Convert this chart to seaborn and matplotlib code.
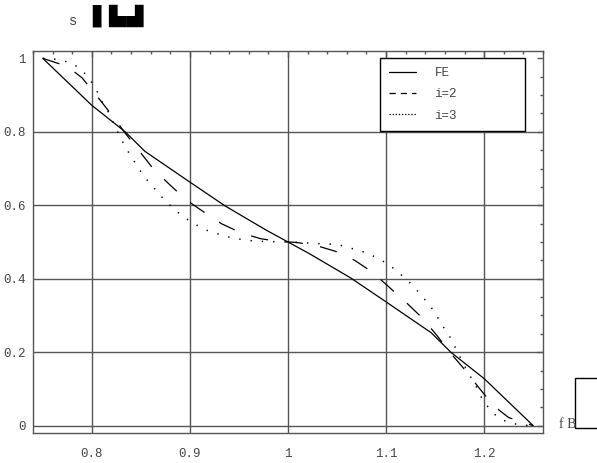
import numpy as np
import pandas as pd
import matplotlib
matplotlib.use("Agg")
import matplotlib.pyplot as plt
from matplotlib.lines import Line2D
from matplotlib.patches import Rectangle
from matplotlib.ticker import MultipleLocator
import seaborn as sns

# ---- data ----
fe_x = [0.75, 0.80, 0.834, 0.854, 0.90, 0.936, 0.978, 1.00, 1.022, 1.064, 1.10, 1.146, 1.166, 1.20, 1.25]
fe_y = [1.00, 0.872, 0.80, 0.747, 0.663, 0.598, 0.532, 0.50, 0.468, 0.402, 0.337, 0.253, 0.20, 0.128, 0.00]

i2_x = [0.75, 0.775, 0.79, 0.805, 0.82, 0.835, 0.848, 0.863, 0.879, 0.896, 0.914, 0.932, 0.952,
        0.972, 0.992, 1.008, 1.028, 1.048, 1.068, 1.086, 1.104, 1.121, 1.137, 1.152, 1.165,
        1.180, 1.195, 1.210, 1.225, 1.25]
i2_y = [1.00, 0.978, 0.947, 0.898, 0.847, 0.793, 0.749, 0.698, 0.657, 0.615, 0.582, 0.550, 0.525,
        0.509, 0.501, 0.499, 0.491, 0.475, 0.450, 0.418, 0.375, 0.334, 0.293, 0.245, 0.200,
        0.153, 0.102, 0.053, 0.022, 0.00]

i3_x = [0.75, 0.759, 0.769, 0.780, 0.789, 0.797, 0.804, 0.809, 0.816, 0.827, 0.833, 0.839, 0.846,
        0.853, 0.861, 0.869, 0.877, 0.886, 0.895, 0.904, 0.915, 0.925, 0.936, 0.947, 0.958,
        0.968, 1.00, 1.016, 1.028, 1.038, 1.050, 1.060, 1.070, 1.080, 1.092, 1.102, 1.111,
        1.119, 1.128, 1.136, 1.144, 1.151, 1.157, 1.164, 1.170, 1.176, 1.184, 1.191, 1.196,
        1.203, 1.211, 1.220, 1.231, 1.241, 1.25]
i3_y = [1.00, 0.999, 0.995, 0.986, 0.970, 0.946, 0.918, 0.888, 0.858, 0.796, 0.765, 0.737, 0.708,
        0.679, 0.655, 0.629, 0.607, 0.584, 0.566, 0.550, 0.534, 0.525, 0.516, 0.509, 0.505,
        0.502, 0.50, 0.498, 0.496, 0.495, 0.493, 0.487, 0.478, 0.471, 0.455, 0.440, 0.421,
        0.402, 0.380, 0.354, 0.330, 0.302, 0.274, 0.247, 0.216, 0.184, 0.142, 0.112, 0.082,
        0.054, 0.030, 0.014, 0.005, 0.001, 0.00]

series_labels = ["FE", "i=2", "i=3"]
x_ticks = [0.8, 0.9, 1.0, 1.1, 1.2]
x_tick_labels = ["0.8", "0.9", "1", "1.1", "1.2"]
y_ticks = [0, 0.2, 0.4, 0.6, 0.8, 1.0]
y_tick_labels = ["0", "0.2", "0.4", "0.6", "0.8", "1"]
grid_x = [0.8, 0.9, 1.0, 1.1, 1.2]
grid_y = [0, 0.2, 0.4, 0.6, 0.8]

# ---- figure ----
sns.set_theme(style="white")
plt.rcParams["font.family"] = ["Liberation Mono", "DejaVu Sans"]

W, H = 597, 463
fig = plt.figure(figsize=(W / 100, H / 100), dpi=100)
fig.patch.set_facecolor("white")
left, right, top, bottom = 33, 543, 51, 433
ax = fig.add_axes([left / W, 1 - bottom / H, (right - left) / W, (bottom - top) / H])
ax.set_facecolor("white")

for gx in grid_x:
    ax.axvline(gx, color="#555555", lw=1.0, zorder=1)
for gy in grid_y:
    ax.axhline(gy, color="#555555", lw=1.0, zorder=1)

sns.lineplot(x=fe_x, y=fe_y, color="black", lw=0.9, sort=False, estimator=None, ax=ax, zorder=3)
sns.lineplot(x=i2_x, y=i2_y, color="black", lw=0.9, sort=False, estimator=None, ax=ax,
             linestyle=(0, (14, 14)), zorder=3)
sns.lineplot(x=i3_x, y=i3_y, color="black", lw=1.1, sort=False, estimator=None, ax=ax,
             linestyle=(0, (0.9, 6.5)), zorder=3)

ax.set_xlim(0.74, 1.26)
ax.set_ylim(-0.02, 1.02)
ax.set_xticks(x_ticks)
ax.set_xticklabels(x_tick_labels)
ax.set_yticks(y_ticks)
ax.set_yticklabels(y_tick_labels)
ax.xaxis.set_minor_locator(MultipleLocator(0.02))
ax.yaxis.set_minor_locator(MultipleLocator(0.05))
ax.tick_params(which="both", direction="in", top=True, right=True, color="#555555")
ax.tick_params(which="major", length=4, width=1)
ax.tick_params(which="minor", length=2.5, width=1)
ax.tick_params(axis="x", which="major", pad=11, labelsize=9, labelcolor="#444444")
ax.tick_params(axis="y", which="major", pad=5, labelsize=9, labelcolor="#444444")
for sp in ax.spines.values():
    sp.set_visible(True)
    sp.set_color("#555555")
    sp.set_linewidth(1.0)
ax.set_xlabel("")
ax.set_ylabel("")

# legend
handles = [
    Line2D([], [], color="black", lw=0.9),
    Line2D([], [], color="black", lw=0.9, linestyle=(0, (5, 4))),
    Line2D([], [], color="black", lw=0.9, linestyle=(0, (1, 1.5))),
]
leg = ax.legend(handles, series_labels, loc="upper left",
                bbox_to_anchor=(380 / W, 1 - 58 / H, 145 / W, 0.001),
                bbox_transform=fig.transFigure, mode="expand",
                frameon=True, fancybox=False, edgecolor="black", framealpha=1,
                fontsize=9, handlelength=2.1, handletextpad=1.5, labelspacing=0.75,
                borderpad=0.75, borderaxespad=0)
leg.get_frame().set_linewidth(1.0)
for t in leg.get_texts():
    t.set_color("#444444")

# title-like text
fig.text(73 / W, 1 - 21 / H, "s", fontsize=10, color="#444444", ha="center", va="center")
fig.text(92 / W, 1 - 16 / H, "▌▙▟", fontsize=16, color="black", ha="left", va="center",
         family=["DejaVu Sans"])

# stray label and box at bottom right
fig.text(559 / W, 1 - 424 / H, "f B", fontsize=10, color="#444444", ha="left", va="center",
         family=["Liberation Serif", "DejaVu Serif"])
fig.patches.append(Rectangle((575 / W, 1 - 428 / H), 30 / W, 50 / H, transform=fig.transFigure,
                             fill=False, edgecolor="black", lw=1.0, clip_on=False))

fig.savefig("out.png", dpi=100)
